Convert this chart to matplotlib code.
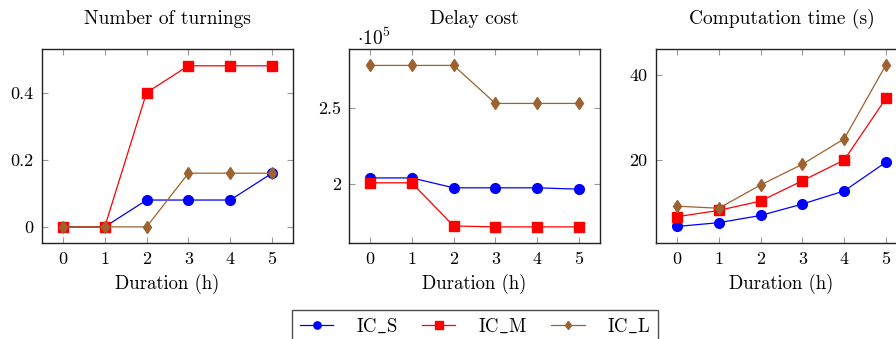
import numpy as np
import matplotlib
matplotlib.use('Agg')
import matplotlib.pyplot as plt

# data
durations = [0, 1, 2, 3, 4, 5]
series = ['IC_S', 'IC_M', 'IC_L']
turnings = {
    'IC_S': [0, 0, 0.08, 0.08, 0.08, 0.16],
    'IC_M': [0, 0, 0.40, 0.48, 0.48, 0.48],
    'IC_L': [0, 0, 0, 0.16, 0.16, 0.16],
}
delay_cost = {
    'IC_S': [204000, 204000, 197500, 197500, 197500, 196600],
    'IC_M': [200800, 200800, 172400, 171800, 171800, 171800],
    'IC_L': [278000, 278000, 278000, 253000, 253000, 253000],
}
comp_time = {
    'IC_S': [4.2, 5.1, 6.8, 9.5, 12.6, 19.4],
    'IC_M': [6.5, 8.0, 10.2, 15.0, 19.9, 34.5],
    'IC_L': [9.0, 8.5, 14.0, 18.9, 24.9, 42.4],
}

plt.rcParams['font.family'] = 'serif'
plt.rcParams['font.serif'] = ['cmr10', 'DejaVu Serif']
plt.rcParams['mathtext.fontset'] = 'cm'
plt.rcParams['axes.unicode_minus'] = False

colors = {'IC_S': '#0000ff', 'IC_M': '#ff0000', 'IC_L': '#9c6330'}
markers = {'IC_S': 'o', 'IC_M': 's', 'IC_L': 'd'}
msizes = {'IC_S': 7, 'IC_M': 7, 'IC_L': 6}
labels = {'IC_S': r'$\mathrm{IC\_S}$', 'IC_M': r'$\mathrm{IC\_M}$', 'IC_L': r'$\mathrm{IC\_L}$'}

W, H = 896, 339
fig = plt.figure(figsize=(W / 100, H / 100), dpi=100)

def make_ax(left):
    return fig.add_axes([left / W, (H - 243) / H, 251 / W, 194 / H])

ax1 = make_ax(42)
ax2 = make_ax(349)
ax3 = make_ax(656)

panels = [
    (ax1, turnings, 'Number of turnings', (-0.048, 0.53), [0, 0.2, 0.4], ['0', '0.2', '0.4']),
    (ax2, delay_cost, 'Delay cost', (161200, 288800), [200000, 250000], ['2', '2.5']),
    (ax3, comp_time, 'Computation time (s)', (0.3, 46.1), [20, 40], ['20', '40']),
]

for ax, data, title, ylim, yt, ytl in panels:
    for s in series:
        ax.plot(durations, data[s], color=colors[s], marker=markers[s],
                markersize=msizes[s], linewidth=0.9, label=labels[s],
                clip_on=False, zorder=3)
    ax.set_xlim(-0.5, 5.5)
    ax.set_ylim(*ylim)
    ax.set_xticks(durations)
    ax.set_xticklabels([str(d) for d in durations])
    ax.set_yticks(yt)
    ax.set_yticklabels(ytl)
    ax.tick_params(direction='in', top=True, right=True, length=4,
                   color='#999999', labelsize=13, pad=6)
    for sp in ax.spines.values():
        sp.set_linewidth(1.0)
        sp.set_color('#222222')
    ax.set_title(title, fontsize=14, pad=18)
    ax.set_xlabel('Duration (h)', fontsize=13.5, labelpad=5)

ax2.text(0.03, 1.0, r'$\cdot 10^5$', transform=ax2.transAxes, fontsize=14,
         ha='left', va='bottom')

handles, lbls = ax1.get_legend_handles_labels()
fig.legend(handles, lbls, loc='upper center', ncol=3,
           bbox_to_anchor=(475 / W, 1 - 310 / H), fontsize=13.5,
           frameon=True, fancybox=False, edgecolor='#222222',
           handlelength=1.8, columnspacing=1.3, handletextpad=1.2,
           borderpad=0.4, borderaxespad=0, markerscale=0.75)

fig.savefig('out.png', dpi=100)
